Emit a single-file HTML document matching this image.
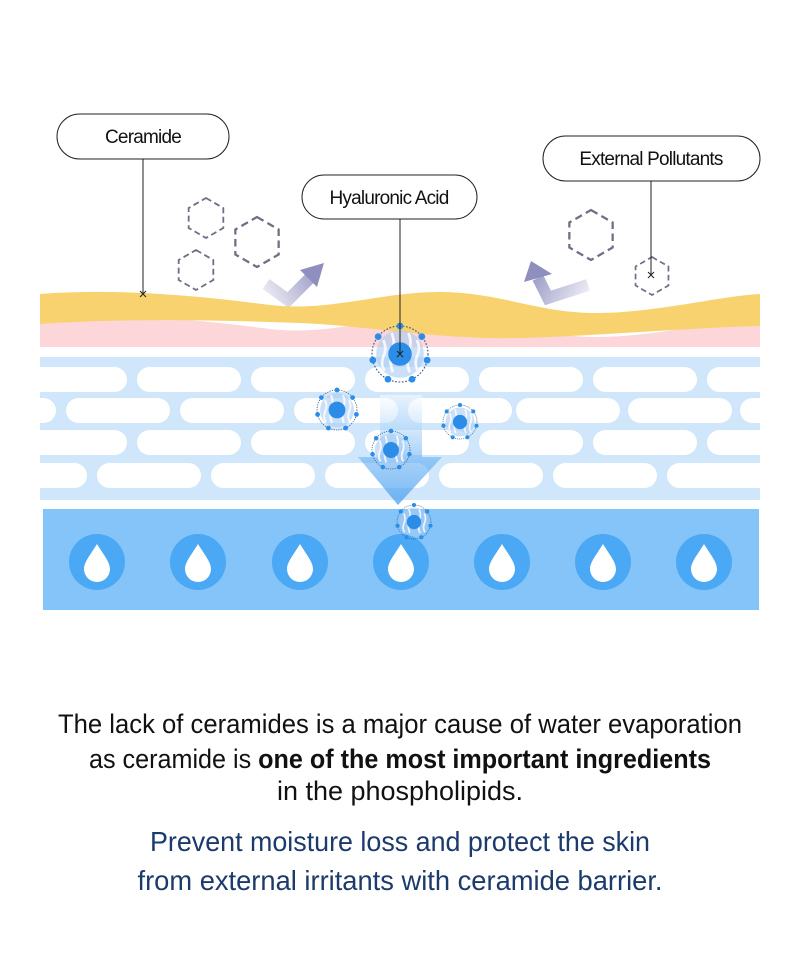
<!DOCTYPE html>
<html><head><meta charset="utf-8"><style>html,body{margin:0;padding:0;background:#fff}svg{display:block}</style></head><body>
<svg width="800" height="972" viewBox="0 0 800 972" xmlns="http://www.w3.org/2000/svg">
<defs>
<linearGradient id="ga" gradientUnits="userSpaceOnUse" x1="265" y1="295" x2="322" y2="262"><stop offset="0" stop-color="#ececf4"/><stop offset="1" stop-color="#8e8fbf"/></linearGradient>
<linearGradient id="gb" gradientUnits="userSpaceOnUse" x1="588" y1="292" x2="530" y2="262"><stop offset="0" stop-color="#ececf4"/><stop offset="1" stop-color="#8e8fbf"/></linearGradient>
<linearGradient id="gd" x1="0" y1="0" x2="0" y2="1"><stop offset="0" stop-color="#ffffff" stop-opacity="0.5"/><stop offset="0.6" stop-color="#5aaaf2" stop-opacity="0.55"/><stop offset="1" stop-color="#4a9ff0" stop-opacity="0.75"/></linearGradient>
<g id="mol">
<circle r="1" fill="none" stroke="#3a5a8a" stroke-width="0.04" stroke-dasharray="0.06 0.06"/>
<circle r="0.85" fill="#a8ccf4" opacity="0.6"/>
<path d="M-0.6,-0.5 q0.15,0.3 0,0.6 q-0.1,0.3 0.05,0.5 M-0.3,-0.75 q0.15,0.35 0,0.7 q-0.1,0.35 0.05,0.7 M0.3,-0.75 q0.15,0.35 0,0.7 q-0.1,0.35 0.05,0.7 M0.6,-0.5 q0.15,0.3 0,0.6 q-0.1,0.3 0.05,0.5" stroke="#fff" stroke-width="0.1" fill="none" opacity="0.8"/>
<circle r="0.42" fill="#2b8de8"/>
<circle cx="0" cy="-1" r="0.12" fill="#2b8de8"/>
<circle cx="0.78" cy="-0.62" r="0.12" fill="#2b8de8"/>
<circle cx="0.97" cy="0.22" r="0.12" fill="#2b8de8"/>
<circle cx="0.43" cy="0.9" r="0.12" fill="#2b8de8"/>
<circle cx="-0.43" cy="0.9" r="0.12" fill="#2b8de8"/>
<circle cx="-0.97" cy="0.22" r="0.12" fill="#2b8de8"/>
<circle cx="-0.78" cy="-0.62" r="0.12" fill="#2b8de8"/>
</g>
<g id="drop"><circle r="28" fill="#4aa8f5"/><path d="M0,-18 C6,-8 13,0 13,7 A13,13 0 0 1 -13,7 C-13,0 -6,-8 0,-18Z" fill="#fff"/></g>
<g id="hex"><polygon points="0,-1 0.866,-0.5 0.866,0.5 0,1 -0.866,0.5 -0.866,-0.5" fill="none" stroke="#6e6e86" stroke-width="0.09" stroke-dasharray="0.3 0.18"/></g>
</defs>

<use href="#hex" transform="translate(206,218) scale(20)"/>
<use href="#hex" transform="translate(257,242) scale(25)"/>
<use href="#hex" transform="translate(196,270) scale(20)"/>
<use href="#hex" transform="translate(591,235) scale(25)"/>
<use href="#hex" transform="translate(652,276) scale(19)"/>

<!-- arrows -->
<polyline points="266,284 288,300 311,277" fill="none" stroke="url(#ga)" stroke-width="12" stroke-linejoin="miter"/>
<polygon points="324,263 300,270 317,287" fill="#8e8fbf"/>
<polyline points="588,285 548,298 538,278" fill="none" stroke="url(#gb)" stroke-width="12" stroke-linejoin="miter"/>
<polygon points="531,261 524,282 552,274" fill="#8e8fbf"/>

<!-- skin layers -->
<path d="M40,318 C120,312 200,320 270,329 C330,336 380,316 440,316 C500,316 540,338 600,337 C660,336 720,320 760,318 L760,347 L40,347 Z" fill="#fcd6d8"/>
<path d="M40,294 C120,288 200,296 270,305 C330,312 380,292 440,292 C500,292 540,314 600,313 C660,312 720,296 760,294 L760,326 C680,328 600,336 520,338 C440,340 370,326 300,323 C220,320 120,318 40,324 Z" fill="#f8d26e"/>

<rect x="40" y="357" width="720" height="143" fill="#cfe6fb"/>
<g fill="#fff">
<rect x="23" y="367" width="104" height="25" rx="12.5"/><rect x="137" y="367" width="104" height="25" rx="12.5"/><rect x="251" y="367" width="104" height="25" rx="12.5"/><rect x="365" y="367" width="104" height="25" rx="12.5"/><rect x="479" y="367" width="104" height="25" rx="12.5"/><rect x="593" y="367" width="104" height="25" rx="12.5"/><rect x="707" y="367" width="104" height="25" rx="12.5"/>
<rect x="-48" y="398" width="104" height="25" rx="12.5"/><rect x="66" y="398" width="104" height="25" rx="12.5"/><rect x="180" y="398" width="104" height="25" rx="12.5"/><rect x="294" y="398" width="104" height="25" rx="12.5"/><rect x="408" y="398" width="104" height="25" rx="12.5"/><rect x="516" y="398" width="104" height="25" rx="12.5"/><rect x="628" y="398" width="104" height="25" rx="12.5"/><rect x="740" y="398" width="104" height="25" rx="12.5"/>
<rect x="23" y="430" width="104" height="25" rx="12.5"/><rect x="137" y="430" width="104" height="25" rx="12.5"/><rect x="251" y="430" width="104" height="25" rx="12.5"/><rect x="365" y="430" width="104" height="25" rx="12.5"/><rect x="479" y="430" width="104" height="25" rx="12.5"/><rect x="593" y="430" width="104" height="25" rx="12.5"/><rect x="707" y="430" width="104" height="25" rx="12.5"/>
<rect x="-17" y="463" width="104" height="25" rx="12.5"/><rect x="97" y="463" width="104" height="25" rx="12.5"/><rect x="211" y="463" width="104" height="25" rx="12.5"/><rect x="325" y="463" width="104" height="25" rx="12.5"/><rect x="439" y="463" width="104" height="25" rx="12.5"/><rect x="553" y="463" width="104" height="25" rx="12.5"/><rect x="667" y="463" width="104" height="25" rx="12.5"/>
</g>
<rect x="0" y="357" width="40" height="143" fill="#fff"/>
<rect x="760" y="357" width="40" height="143" fill="#fff"/>

<rect x="43" y="509" width="716" height="101" fill="#85c4f9"/>
<use href="#drop" x="97" y="562"/><use href="#drop" x="198" y="562"/><use href="#drop" x="300" y="562"/><use href="#drop" x="401" y="562"/><use href="#drop" x="502" y="562"/><use href="#drop" x="603" y="562"/><use href="#drop" x="704" y="562"/>

<path d="M380,395 L422,395 L422,457 L442,457 L398,505 L358,457 L380,457 Z" fill="url(#gd)"/>

<use href="#mol" transform="translate(400,354) scale(28)"/>
<use href="#mol" transform="translate(337,410) scale(20)"/>
<use href="#mol" transform="translate(460,422) scale(17)"/>
<use href="#mol" transform="translate(391,450) scale(19)"/>
<use href="#mol" transform="translate(414,522) scale(17)"/>

<g stroke="#222" stroke-width="1" fill="none">
<line x1="143" y1="159" x2="143" y2="294"/>
<line x1="400" y1="219" x2="400" y2="354"/>
<line x1="651" y1="181" x2="651" y2="275"/>
<path d="M140,291 l6,6 m0,-6 l-6,6 M397,351 l6,6 m0,-6 l-6,6 M648,272 l6,6 m0,-6 l-6,6"/>
<rect x="57" y="114" width="172" height="45" rx="22.5" fill="#fff"/>
<rect x="302" y="175" width="175" height="44" rx="22" fill="#fff"/>
<rect x="543" y="136" width="217" height="45" rx="22.5" fill="#fff"/>
</g>
<g font-family="Liberation Sans, sans-serif" font-size="19" fill="#111" text-anchor="middle" letter-spacing="-0.8">
<text x="143" y="143">Ceramide</text>
<text x="389" y="204">Hyaluronic Acid</text>
<text x="651" y="165">External Pollutants</text>
</g>

<g font-family="Liberation Sans, sans-serif" font-size="27" text-anchor="middle">
<text x="400" y="733" textLength="684" lengthAdjust="spacingAndGlyphs" fill="#111">The lack of ceramides is a major cause of water evaporation</text>
<text x="400" y="768" textLength="622" lengthAdjust="spacingAndGlyphs" fill="#111">as ceramide is <tspan font-weight="bold">one of the most important ingredients</tspan></text>
<text x="400" y="800" textLength="246" lengthAdjust="spacingAndGlyphs" fill="#111">in the phospholipids.</text>
<text x="400" y="851" textLength="500" lengthAdjust="spacingAndGlyphs" fill="#1c3a6b" font-size="28">Prevent moisture loss and protect the skin</text>
<text x="400" y="890" textLength="525" lengthAdjust="spacingAndGlyphs" fill="#1c3a6b" font-size="28">from external irritants with ceramide barrier.</text>
</g>
</svg>
</body></html>
